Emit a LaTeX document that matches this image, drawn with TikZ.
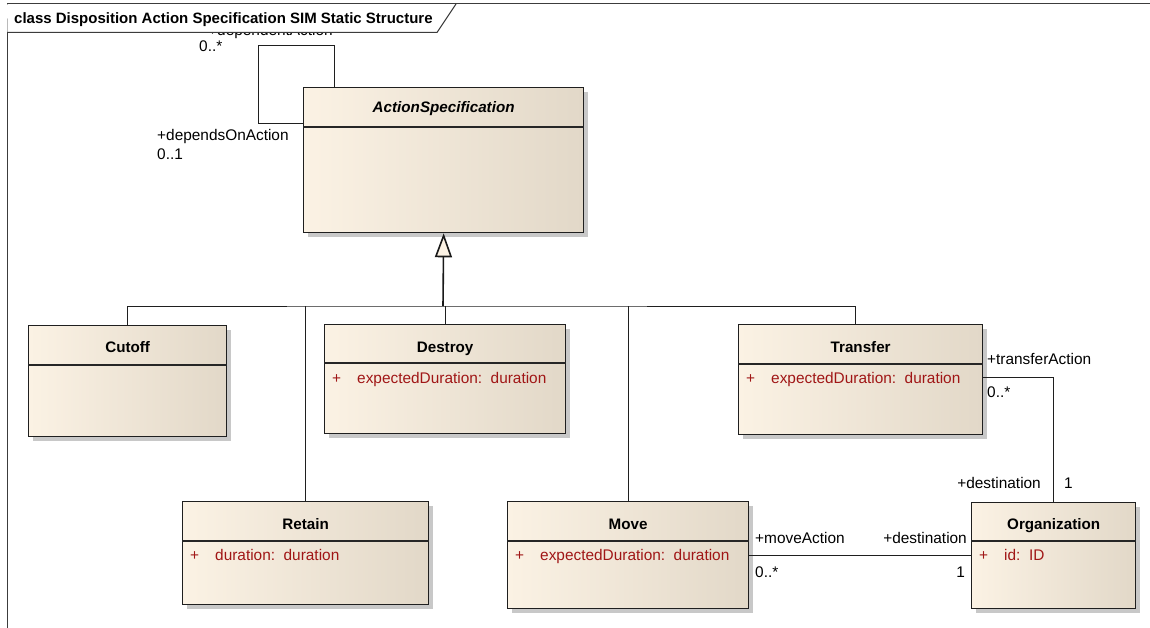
\documentclass[tikz,border=0pt]{standalone}
\usepackage{fontspec}
\setmainfont{Liberation Sans}
\usetikzlibrary{arrows.meta,shadows}
\definecolor{boxL}{RGB}{251,242,228}
\definecolor{boxM}{RGB}{248,237,222}
\definecolor{boxR}{RGB}{226,216,200}
\definecolor{attrred}{RGB}{160,22,22}
\definecolor{framegray}{RGB}{60,60,60}
\definecolor{shadowgray}{RGB}{200,200,200}
\tikzset{
  classbox/.style={draw=black!88, line width=1.3pt, inner sep=0pt, anchor=north west,
    left color=boxL, middle color=boxM, right color=boxR,
    drop shadow={shadow xshift=4pt, shadow yshift=-4pt, fill=shadowgray, opacity=1}},
  divline/.style={draw=black!85, line width=1.2pt},
  classtitle/.style={inner sep=0pt, anchor=base, font=\fontsize{15.2}{18}\selectfont\bfseries},
  attrtext/.style={inner sep=0pt, anchor=base west, text=attrred, font=\fontsize{15.4}{18}\selectfont},
  lbl/.style={inner sep=0pt, font=\fontsize{15.4}{18}\selectfont},
  conn/.style={draw=black!88, line width=1pt},
  genline/.style={draw=black!90, line width=1.6pt, -{Triangle[open, length=24pt, width=17pt, fill=boxL]}},
  framestroke/.style={draw=framegray, line width=1pt},
}
\newcommand\umlclass[8]{%
  \node[classbox, minimum width=#4pt, minimum height=#5pt] (#1) at (#2,#3) {};
  \draw[divline] ([yshift=-#6pt]#1.north west) -- ([yshift=-#6pt]#1.north east);
  \node[classtitle] (#1-title) at ([yshift=-#7pt]#1.north) {#8};
}
\newcommand\umlattr[3]{%
  \node[attrtext] (#1-plus) at ([xshift=8pt,yshift=-#2pt]#1.north west) {+};
  \node[attrtext] (#1-attr) at ([xshift=33pt,yshift=-#2pt]#1.north west) {#3};
}
\begin{document}
\begin{tikzpicture}[x=1pt, y=-1pt]
\useasboundingbox (0,0) rectangle (1150,628);
\fill[white] (0,0) rectangle (1150,628);
% frame
\draw[framestroke] (7,628) -- (7,4) -- (1150,4);
% clipped role label under the title tab
\node[lbl, anchor=base west] (depAct) at (208,36) {+dependentAction};
\fill[white] (7,4.5) -- (456,4.5) -- (437,32.5) -- (7.5,32.5) -- cycle;
\draw[framestroke] (7,32.5) -- (437,32.5) -- (456,4);
\node[classtitle, anchor=base west, font=\fontsize{15}{18}\selectfont\bfseries] (frametitle) at (14,24) {class Disposition Action Specification SIM Static Structure};

% classes
\umlclass{as}{303}{87}{280}{145}{40}{26}{\itshape ActionSpecification}
\umlclass{cutoff}{28}{325}{198}{111}{40}{27}{Cutoff}
\umlclass{destroy}{324}{324}{241}{109}{39}{28}{Destroy}
\umlattr{destroy}{59}{expectedDuration:\ \ duration}
\umlclass{transfer}{738}{324}{244}{110}{40}{28}{Transfer}
\umlattr{transfer}{59}{expectedDuration:\ \ duration}
\umlclass{retain}{182}{501}{246}{103}{40}{28}{Retain}
\umlattr{retain}{59}{duration:\ \ duration}
\umlclass{move}{507}{501}{241}{107}{40}{28}{Move}
\umlattr{move}{59}{expectedDuration:\ \ duration}
\umlclass{org}{971}{502}{164}{106}{39}{27}{Organization}
\umlattr{org}{58}{id:\ \ ID}

% self association
\coordinate (loopc) at (258,46);
\draw[conn] ([xshift=31pt]as.north west) |- (loopc) |- ([yshift=-37pt]as.north west);
\node[lbl, anchor=base west] (l1) at (199,52) {0..*};
\node[lbl, anchor=base west] (l2) at (157,141) {+dependsOnAction};
\node[lbl, anchor=base west] (l3) at (157,160) {0..1};

% generalization
\coordinate (bus) at (443,306);
\draw[conn] (cutoff.north) |- (bus) -| ([xshift=-5pt]transfer.north);
\draw[conn] (retain.north) -- (retain.north |- bus);
\draw[conn] (move.north) -- (move.north |- bus);
\draw[conn] (destroy.north) -- (destroy.north |- bus);
\draw[genline] (bus) -- (as.south);

% Transfer - Organization
\draw[conn] ([yshift=2pt]transfer.east) -| (org.north);
\node[lbl, anchor=base west] (l4) at (987,364) {+transferAction};
\node[lbl, anchor=base west] (l5) at (987,397) {0..*};
\node[lbl, anchor=base east] (l6) at (1041,488) {+destination};
\node[lbl, anchor=base west] (l7) at (1064,488) {1};

% Move - Organization
\draw[conn] (move.east |- org.west) -- (org.west);
\node[lbl, anchor=base west] (l8) at (755,543) {+moveAction};
\node[lbl, anchor=base west] (l9) at (755,577) {0..*};
\node[lbl, anchor=base east] (l10) at (967,543) {+destination};
\node[lbl, anchor=base east] (l11) at (965,577) {1};
\end{tikzpicture}
\end{document}
